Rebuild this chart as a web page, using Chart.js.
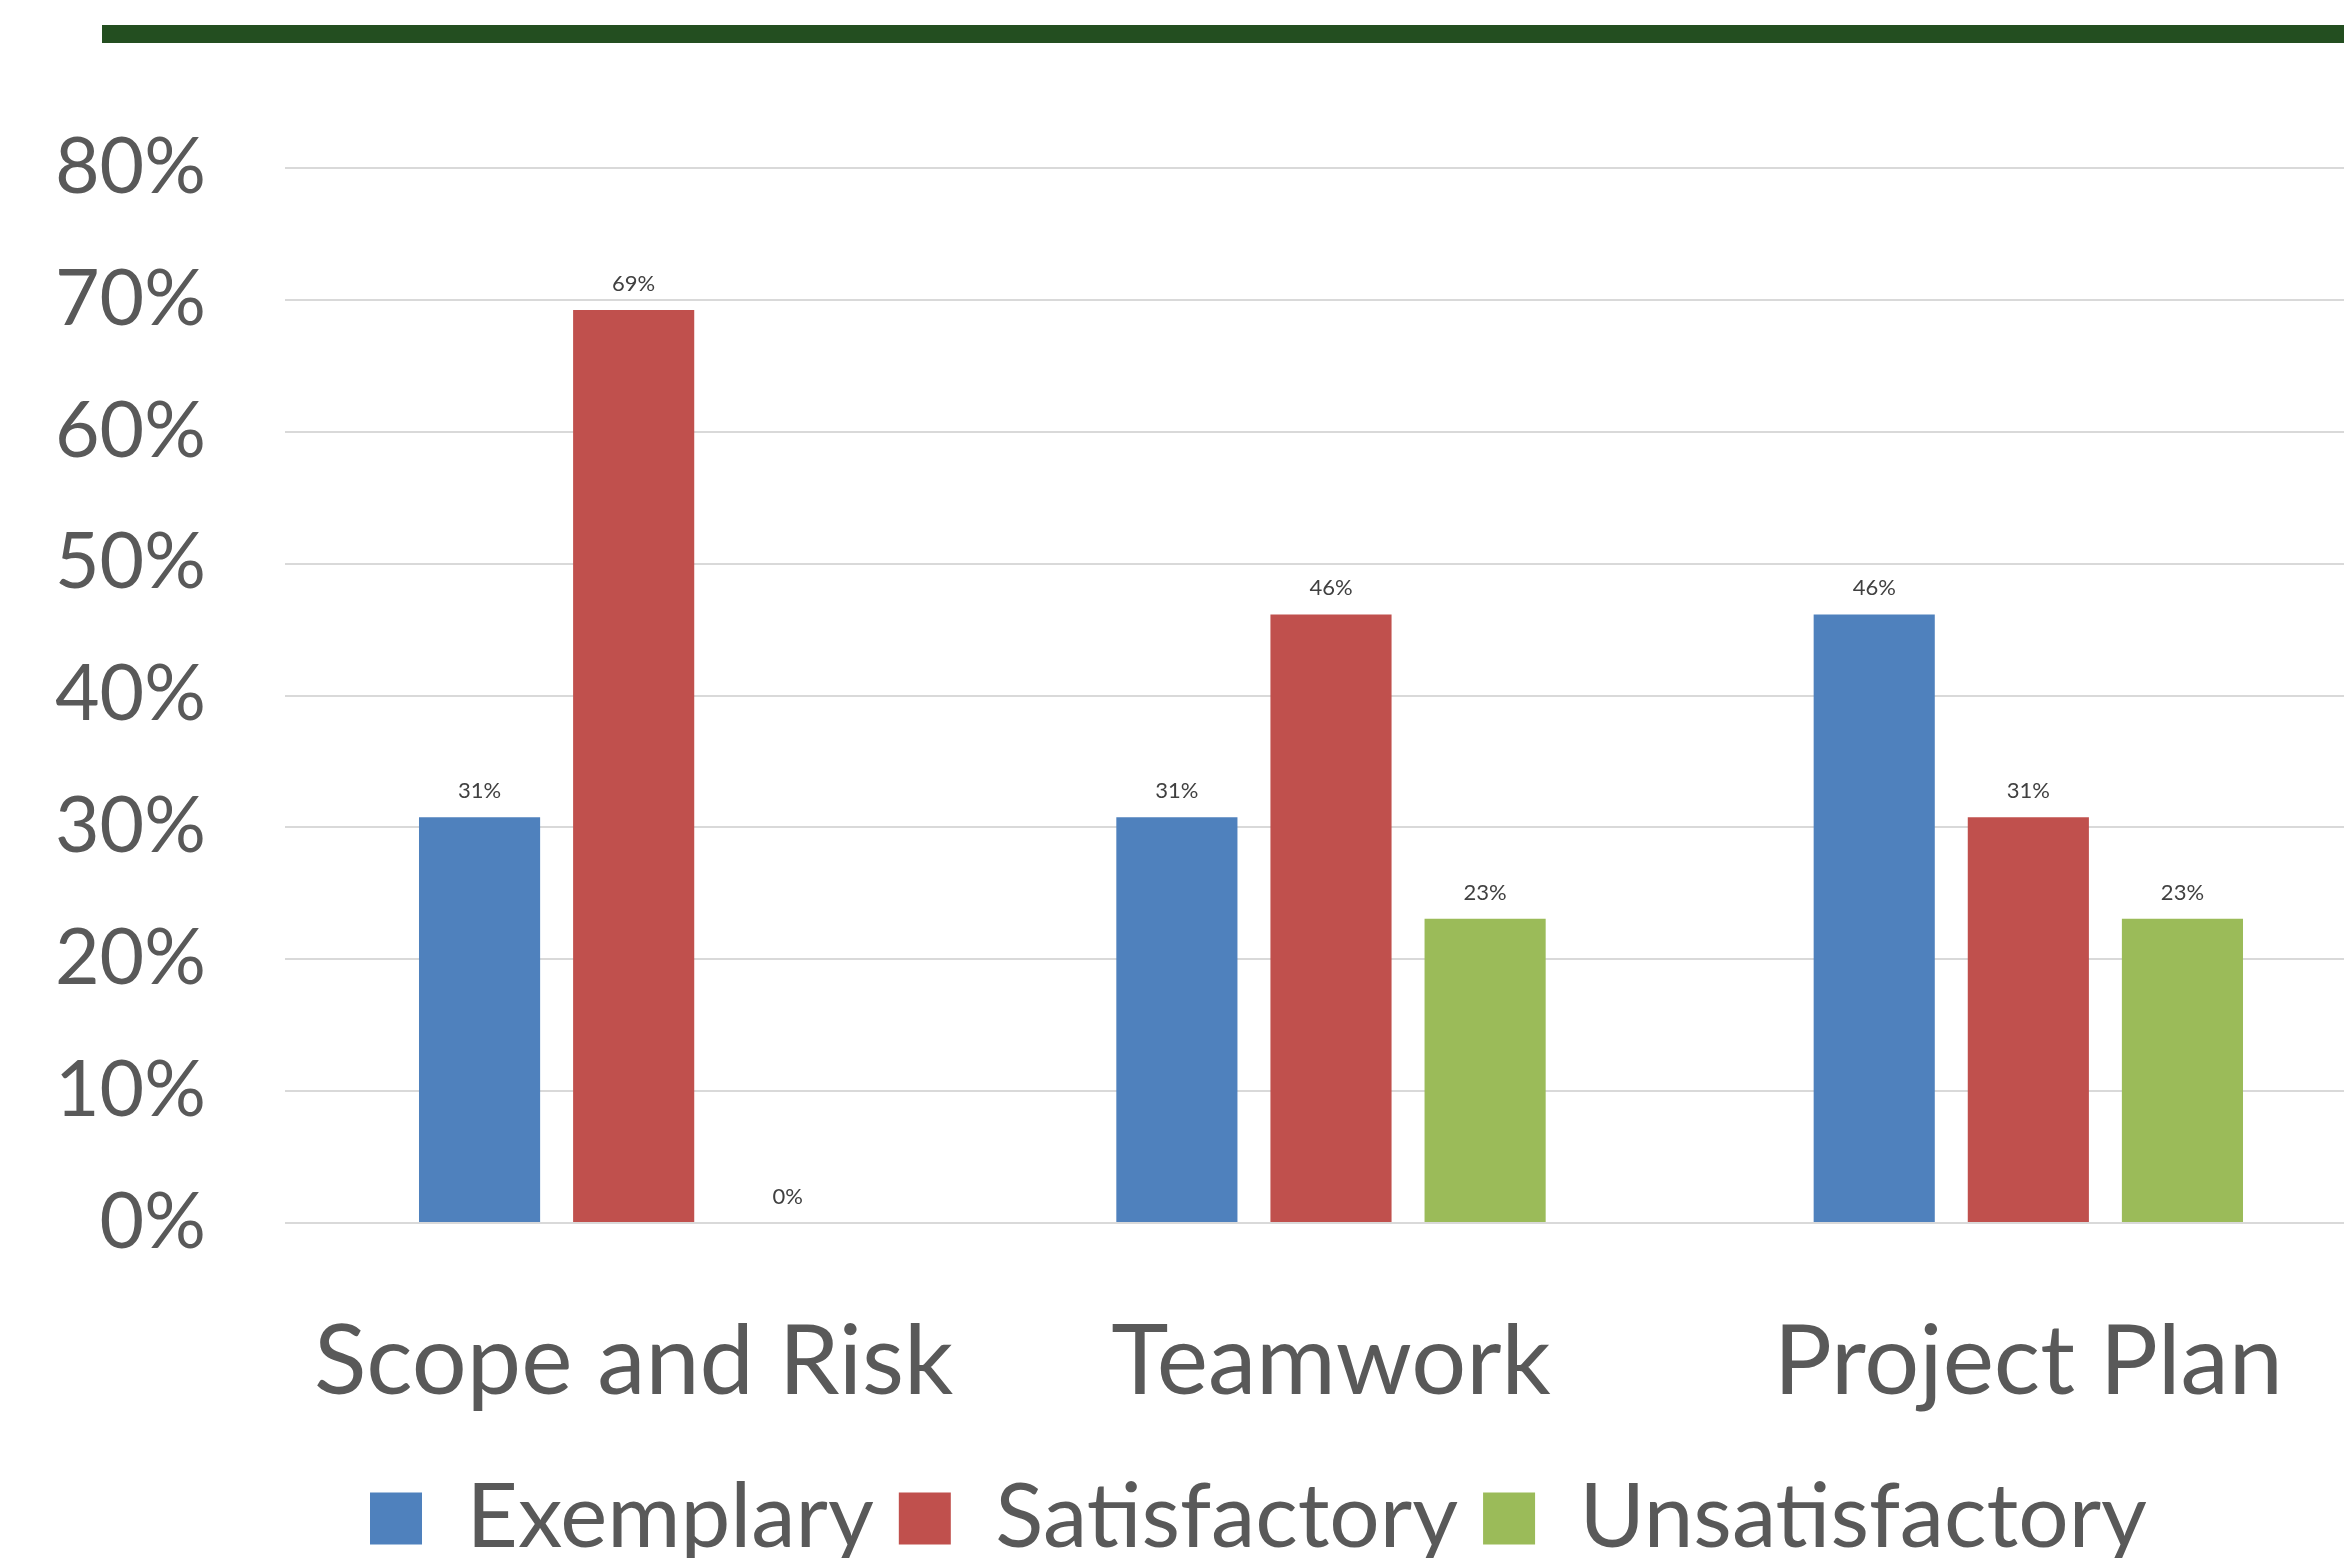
<!DOCTYPE html>
<html><head><meta charset="utf-8">
<script src="https://cdn.jsdelivr.net/npm/chart.js@4/dist/chart.umd.min.js"></script>
<style>
html,body{margin:0;padding:0;background:#fff;overflow:hidden;width:2344px;height:1558px;}
#wrap{position:absolute;left:0;top:0;width:2377px;height:1573px;}
#topbar{position:absolute;left:102px;top:25px;width:2242px;height:18px;background:#234E20;z-index:2}
</style></head><body>
<div id="topbar"></div>
<div id="wrap"><canvas id="c" width="2377" height="1573" style="width:2377px;height:1573px"></canvas></div>
<script>
const categories = ['Scope and Risk', 'Teamwork', 'Project Plan'];
const seriesNames = ['Exemplary', 'Satisfactory', 'Unsatisfactory'];
const exemplary = [0.3077, 0.3077, 0.4615];
const satisfactory = [0.6923, 0.4615, 0.3077];
const unsatisfactory = [0, 0.2308, 0.2308];
const seriesColors = ['#4F81BD', '#C0504D', '#9BBB59'];
const yTickValues = [0, 0.1, 0.2, 0.3, 0.4, 0.5, 0.6, 0.7, 0.8];

const seriesData = [exemplary, satisfactory, unsatisfactory];
const pct = v => Math.round(v * 100) + '%';

const valueLabels = {
  id: 'valueLabels',
  afterDatasetsDraw(chart) {
    const ctx = chart.ctx;
    ctx.save();
    ctx.font = '22px Lato';
    ctx.fillStyle = '#404040';
    ctx.textAlign = 'center';
    ctx.textBaseline = 'middle';
    chart.data.datasets.forEach((ds, i) => {
      chart.getDatasetMeta(i).data.forEach((bar, j) => {
        ctx.fillText(pct(ds.data[j]), bar.x, bar.y - 26);
      });
    });
    ctx.restore();
  }
};

// Shift the legend's horizontal band so it is centred like the original
const legendBand = {
  id: 'legendBand',
  afterLayout(chart) {
    if (chart.legend) { chart.legend.left = 140; }
  }
};

function draw() {
  new Chart(document.getElementById('c'), {
    type: 'bar',
    data: {
      labels: categories,
      datasets: seriesNames.map((n, i) => ({
        label: n,
        data: seriesData[i],
        backgroundColor: seriesColors[i],
        borderWidth: 0,
        categoryPercentage: 0.663,
        barPercentage: 0.786
      }))
    },
    options: {
      responsive: false,
      animation: false,
      devicePixelRatio: 1,
      layout: { padding: { left: 0, right: 0, top: 168, bottom: 0 } },
      plugins: {
        tooltip: { enabled: false },
        legend: {
          position: 'bottom',
          labels: {
            font: { family: 'Lato', size: 89 },
            color: '#595959',
            boxWidth: 52,
            boxHeight: 52,
            padding: 25
          }
        }
      },
      scales: {
        x: {
          grid: { display: false },
          border: { display: false },
          ticks: { font: { family: 'Lato', size: 97 }, color: '#595959', padding: 74, maxRotation: 0, autoSkip: false },
          afterFit(s) { s.height = 226; }
        },
        y: {
          min: 0, max: 0.8,
          afterBuildTicks(s) { s.ticks = yTickValues.map(v => ({ value: v })); },
          grid: { color: '#D9D9D9', lineWidth: 2, drawTicks: false },
          border: { display: false },
          ticks: { font: { family: 'Lato', size: 77 }, color: '#595959', padding: 79, autoSkip: false, callback: v => pct(v) },
          afterFit(s) { s.width = 285; }
        }
      }
    },
    plugins: [valueLabels, legendBand]
  });
}
document.fonts.load('77px Lato').then(draw, draw);
</script>
</body></html>
